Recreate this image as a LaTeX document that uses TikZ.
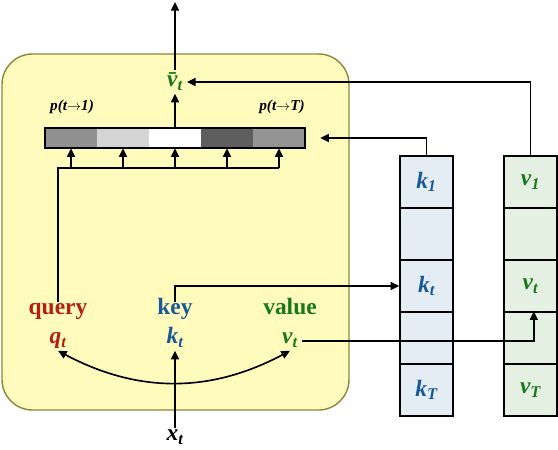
\documentclass[tikz,border=0pt]{standalone}
\usepackage{fontspec}
\setmainfont{Liberation Serif}
\usetikzlibrary{arrows.meta,positioning,calc}
\definecolor{Query}{RGB}{180,30,20}
\definecolor{Key}{RGB}{25,90,150}
\definecolor{Value}{RGB}{25,120,25}
\definecolor{Panel}{RGB}{255,251,188}
\definecolor{PanelEdge}{RGB}{140,135,60}
\definecolor{KeyFill}{RGB}{228,237,243}
\definecolor{ValFill}{RGB}{228,240,225}
\tikzset{
  lbl/.style={font=\fontsize{20}{23}\selectfont\bfseries,text height=1.6ex,text depth=0.5ex},
  sym/.style={font=\fontsize{20}{23}\selectfont\bfseries\itshape,text height=1.6ex,text depth=0.5ex},
  prob/.style={font=\fontsize{13}{15}\selectfont\bfseries\itshape},
  cell/.style={inner sep=0pt,minimum width=1.56cm,minimum height=0.6cm},
  slot/.style={draw,line width=1.2pt,inner sep=0pt,minimum width=1.59cm,minimum height=1.56cm,
    font=\fontsize{20}{23}\selectfont\bfseries\itshape},
  conn/.style={line width=1.4pt},
}
\begin{document}
\begin{tikzpicture}[x=0.03cm,y=-0.03cm,>={Triangle[length=2.6mm,width=2.4mm]}]
  \useasboundingbox (0,0) rectangle (558,450);
  % panel
  \draw[draw=PanelEdge,fill=Panel,line width=1.2pt,rounded corners=26pt] (2,54) rectangle (349,410);
  % attention weights
  \foreach \g [count=\i] in {43,17,0,63,42}
    \node[cell,fill=black!\g] (c\i) at (19+52*\i,138) {};
  \draw[line width=1.4pt] (c1.north west) rectangle (c5.south east);
  \node[prob] (p1) at (72,107) {p(t\ensuremath{\to}1)};
  \node[prob] (pT) at (282,107) {p(t\ensuremath{\to}T)};
  \node[sym,text=Value,text height=2.3ex] (vbar) at (175,82) {\=v\textsubscript{t}};
  % memory columns
  \foreach \t [count=\i] in {k\textsubscript{1},,k\textsubscript{t},,k\textsubscript{T}}
    \node[slot,fill=KeyFill,text=Key] (k\i) at (426.5,130+52*\i) {\t};
  \foreach \t [count=\i] in {v\textsubscript{1},,v\textsubscript{t},,v\textsubscript{T}}
    \node[slot,fill=ValFill,text=Value] (v\i) at (530.5,130+52*\i) {\t};
  % projections
  \node[lbl,text=Query] (query) at (58,312) {query};
  \node[sym,text=Query] (qt) at (58,341) {q\textsubscript{t}};
  \node[lbl,text=Key] (key) at (175,312) {key};
  \node[sym,text=Key] (kt) at (175,341) {k\textsubscript{t}};
  \node[lbl,text=Value] (value) at (290,312) {value};
  \node[sym,text=Value] (vt) at (290,341) {v\textsubscript{t}};
  \node[sym] (xt) at (175,438) {x\textsubscript{t}};
  \coordinate (top) at (175,2);
  \coordinate (fan) at (58,168);
  % connectors
  \draw[conn,->] (c3.north) -- (vbar.south);
  \draw[conn,->] (vbar.north) -- (top);
  \draw[conn,->] (v1.north) |- (vbar.east);
  \draw[conn,->] (k1.north) |- ([xshift=0.45cm]c5.east);
  \draw[conn] (query.north) -- (fan) -- (fan -| c5.south);
  \foreach \i in {1,...,5}
    \draw[conn,->] (fan -| c\i.south) -- (c\i.south);
  \draw[conn,->] (key.north) |- (k3.west);
  \draw[conn,->] (vt.east) -| ([xshift=0.1cm]v4.north);
  \draw[conn,<->] (qt.south) to[bend right=28] (vt.south);
  \draw[conn,->] (xt.north) -- (kt.south);
\end{tikzpicture}
\end{document}
